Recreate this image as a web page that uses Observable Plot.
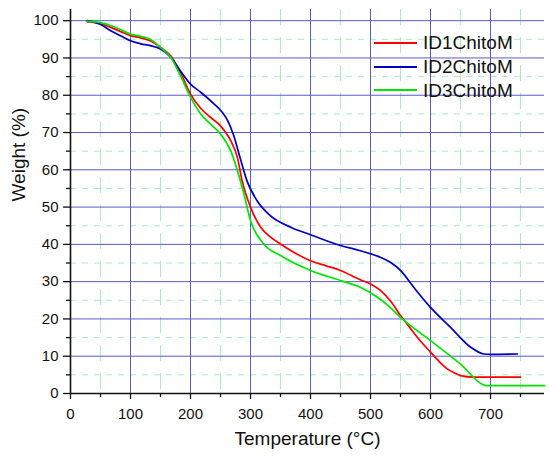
<!DOCTYPE html>
<html>
<head>
<meta charset="utf-8">
<script src="https://cdn.jsdelivr.net/npm/d3@7"></script>
<script src="https://cdn.jsdelivr.net/npm/@observablehq/plot@0.6"></script>
<style>
  html, body { margin: 0; padding: 0; background: white; }
  #wrap { position: relative; width: 550px; height: 464px; font-family: "Liberation Sans", Arial, sans-serif; }
  #legend { position: absolute; left: 374px; top: 31px; }
  .row { display: flex; align-items: center; height: 23.8px; }
  .sw { width: 43px; height: 0; border-top: 2px solid; margin-right: 6px; }
  .lab { font-size: 19px; color: #111; line-height: 19px; }
</style>
</head>
<body>
<div id="wrap"><div id="legend"></div></div>
<script>
const seriesNames = ["ID1ChitoM", "ID2ChitoM", "ID3ChitoM"];
const seriesColors = ["#ff0000", "#0000c0", "#00e600"];

const tempID1 = [28, 50, 67, 85, 100, 117, 133, 150, 167, 183, 200, 217, 233, 250, 267, 278, 286, 300, 317, 333, 350, 375, 400, 425, 450, 483, 500, 517, 535, 550, 565, 578, 600, 615, 628, 640, 650, 672, 700, 750];
const weightID1 = [99.7, 99.2, 98.2, 97, 96, 95.4, 94.6, 92.8, 90.6, 86.2, 80.3, 76.5, 74.1, 71.8, 67.8, 63.4, 57.1, 50, 44.6, 42, 40.1, 37.6, 35.6, 34.3, 33, 30.5, 29.4, 27.6, 24.5, 20.9, 17.8, 15.1, 11.1, 8.5, 6.6, 5.5, 4.8, 4.4, 4.4, 4.4];

const tempID2 = [28, 50, 67, 85, 100, 117, 133, 150, 167, 183, 200, 217, 239, 252, 262, 272, 281, 294, 311, 333, 367, 400, 450, 483, 517, 535, 550, 572, 600, 633, 667, 689, 700, 745];
const weightID2 = [100, 99, 97.3, 95.8, 94.6, 93.8, 93.3, 92.4, 90.2, 86.6, 83, 80.8, 77.7, 75.6, 73.2, 69.2, 64.2, 57.1, 51.7, 47.7, 44.6, 42.6, 39.7, 38.3, 36.5, 35, 33, 28.5, 23.1, 17.8, 12.4, 10.6, 10.5, 10.6];

const tempID3 = [28, 50, 67, 85, 100, 117, 133, 150, 167, 183, 200, 217, 233, 250, 267, 289, 300, 322, 350, 400, 450, 483, 511, 530, 553, 600, 650, 694, 790];
const weightID3 = [99.8, 99.5, 98.7, 97.5, 96.4, 95.8, 95, 92.8, 90.2, 85.3, 79.5, 75, 72.3, 69.6, 65.1, 53.6, 46.4, 40.1, 37, 33, 30.3, 28.5, 25.9, 23.5, 20, 14.2, 7.9, 2.1, 2.1];

const xTicks = [0, 100, 200, 300, 400, 500, 600, 700];
const xMinor = [50, 150, 250, 350, 450, 550, 650, 750];
const yTicks = [0, 10, 20, 30, 40, 50, 60, 70, 80, 90, 100];
const yMinor = [5, 15, 25, 35, 45, 55, 65, 75, 85, 95];

const xLabel = "Temperature (°C)";
const yLabel = "Weight (%)";

const table = [];
[[tempID1, weightID1], [tempID2, weightID2], [tempID3, weightID3]].forEach(([ts, ws], i) => {
  ts.forEach((t, j) => table.push({series: seriesNames[i], T: t, W: ws[j]}));
});

const font = "'Liberation Sans', Arial, sans-serif";

const chart = Plot.plot({
  width: 550,
  height: 464,
  marginLeft: 70,
  marginRight: 6,
  marginTop: 9,
  marginBottom: 71,
  x: {domain: [0, 790]},
  y: {domain: [0, 103]},
  color: {domain: seriesNames, range: seriesColors},
  style: {fontFamily: font, fontSize: "15px", color: "#111", background: "white", overflow: "visible"},
  marks: [
    Plot.ruleY(yMinor, {stroke: "#a6efba", strokeDasharray: "6,6", strokeWidth: 1}),
    Plot.ruleX(xMinor, {stroke: "#a6efba", strokeDasharray: "16,12", strokeWidth: 1}),
    Plot.ruleY(yTicks.filter(d => d > 0), {stroke: "#5a5acd", strokeWidth: 1}),
    Plot.ruleX(xTicks.filter(d => d > 0), {stroke: "#5a5acd", strokeWidth: 1}),
    Plot.line(table, {x: "T", y: "W", z: "series", stroke: "series", curve: "monotone-x", strokeWidth: 1.7}),
    Plot.axisX({ticks: xTicks, tickSize: 6, tickPadding: 9, fontSize: 15, label: null, strokeWidth: 1.3}),
    Plot.axisX({ticks: xMinor, tickSize: 4, tickFormat: () => "", label: null, strokeWidth: 1.3}),
    Plot.axisY({ticks: yTicks, tickSize: 7, tickPadding: 5, fontSize: 15, label: null, strokeWidth: 1.3}),
    Plot.axisY({ticks: yMinor, tickSize: 4, tickFormat: () => "", label: null, strokeWidth: 1.3}),
    Plot.ruleY([0], {stroke: "#111", strokeWidth: 1.6}),
    Plot.ruleX([0], {stroke: "#111", strokeWidth: 1.6}),
    Plot.text([xLabel], {frameAnchor: "bottom", dy: 51, fontSize: 19, fill: "#111"}),
    Plot.text([yLabel], {frameAnchor: "left", rotate: -90, dx: -52, fontSize: 19, fill: "#111"})
  ]
});

document.getElementById("wrap").prepend(chart);

const legend = document.getElementById("legend");
seriesNames.forEach((name, i) => {
  const row = document.createElement("div");
  row.className = "row";
  const sw = document.createElement("div");
  sw.className = "sw";
  sw.style.borderTopColor = seriesColors[i];
  const lab = document.createElement("span");
  lab.className = "lab";
  lab.textContent = name;
  row.append(sw, lab);
  legend.append(row);
});
</script>
</body>
</html>
